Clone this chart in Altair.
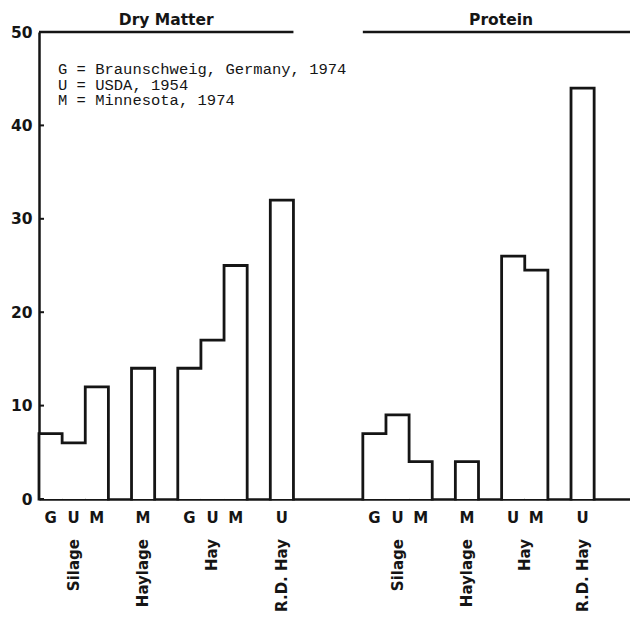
import altair as alt
import pandas as pd

# ---- data ----
panels = ["Dry Matter"] * 8 + ["Protein"] * 7
categories = ["Silage", "Silage", "Silage", "Haylage", "Hay", "Hay", "Hay", "R.D. Hay",
              "Silage", "Silage", "Silage", "Haylage", "Hay", "Hay", "R.D. Hay"]
sources = ["G", "U", "M", "M", "G", "U", "M", "U",
           "G", "U", "M", "M", "U", "M", "U"]
values = [7, 6, 12, 14, 14, 17, 25, 32,
          7, 9, 4, 4, 26, 24.5, 44]
legend_lines = ["G = Braunschweig, Germany, 1974", "U = USDA, 1954", "M = Minnesota, 1974"]
y_ticks = [0, 10, 20, 30, 40, 50]

INK = "#151515"
SANS = "DejaVu Sans"
X_END = 25.55

# ---- slot layout: 1 slot gap between categories, 3 between panels ----
slots = []
pos = 0
prev_p = prev_c = None
for p, c in zip(panels, categories):
    if prev_p is not None:
        if p != prev_p:
            pos += 3
        elif c != prev_c:
            pos += 1
    slots.append(pos)
    pos += 1
    prev_p, prev_c = p, c

bars = pd.DataFrame({"panel": panels, "category": categories, "source": sources,
                     "value": values, "x0": slots})
bars["x1"] = bars["x0"] + 1
bars["xc"] = bars["x0"] + 0.5
bars["grp"] = bars["panel"] + "|" + bars["category"]

# step outline of each category group
rows = []
for g, sub in bars.groupby("grp", sort=False):
    sub = sub.sort_values("x0")
    pts = [(sub["x0"].iloc[0], 0)]
    for _, r in sub.iterrows():
        pts.append((r["x0"], r["value"]))
        pts.append((r["x1"], r["value"]))
    pts.append((sub["x1"].iloc[-1], 0))
    for i, (x, y) in enumerate(pts):
        rows.append({"grp": g, "x": x, "y": y, "o": i})
outline = pd.DataFrame(rows)

cats = bars.groupby("grp", sort=False).agg(category=("category", "first"),
                                            xc=("xc", "mean")).reset_index()

heads = bars.groupby("panel", sort=False).agg(x0=("x0", "min"), x1=("x1", "max")).reset_index()
heads.loc[heads["panel"] == "Protein", "x1"] = X_END + 0.4
heads["xc"] = (heads["x0"] + heads["x1"]) / 2
heads["top"] = 50

xs = alt.Scale(domain=[0, X_END], nice=False, zero=False)
ys = alt.Scale(domain=[0, 50], nice=False, padding=0)

base_x_axis = alt.Axis(labels=False, ticks=False, grid=False, title=None,
                       domainColor=INK, domainWidth=2.5)
y_axis = alt.Axis(values=y_ticks, title=None, grid=False, domainColor=INK, domainWidth=2.5,
                  ticks=False, labelFont=SANS,
                  labelFontWeight="bold", labelFontSize=15.5, labelColor=INK, labelPadding=7)

fill = alt.Chart(bars).mark_rect(color="white", strokeWidth=0).encode(
    x=alt.X("x0:Q", scale=xs, axis=base_x_axis),
    x2="x1:Q",
    y=alt.Y("value:Q", scale=ys, axis=y_axis),
    y2=alt.datum(0),
)

# inward tick marks on the value axis
ticks = alt.Chart(pd.DataFrame({"t": y_ticks})).mark_rule(color=INK, strokeWidth=2).encode(
    x=alt.value(0), x2=alt.value(5), y=alt.Y("t:Q", scale=ys)
)

line = alt.Chart(outline).mark_line(color=INK, strokeWidth=2.8, strokeJoin="miter",
                                    strokeCap="square").encode(
    x=alt.X("x:Q", scale=xs),
    y=alt.Y("y:Q", scale=ys),
    detail="grp:N",
    order="o:Q",
)

head_rule = alt.Chart(heads).mark_rule(color=INK, strokeWidth=2.5).encode(
    x=alt.X("x0:Q", scale=xs), x2="x1:Q", y=alt.Y("top:Q", scale=ys)
)
head_text = alt.Chart(heads).mark_text(font=SANS, fontWeight="bold", fontSize=15.5,
                                       color=INK, dy=-12, baseline="middle").encode(
    x=alt.X("xc:Q", scale=xs), y=alt.Y("top:Q", scale=ys), text="panel:N"
)

src_text = alt.Chart(bars).mark_text(font=SANS, fontWeight="bold", fontSize=15,
                                     color=INK, dy=19, baseline="middle").encode(
    x=alt.X("xc:Q", scale=xs), y=alt.datum(0), text="source:N"
)

cat_text = alt.Chart(cats).mark_text(font=SANS, fontWeight="bold", fontSize=15,
                                     color=INK, angle=270, align="right", baseline="middle",
                                     dx=-40).encode(
    x=alt.X("xc:Q", scale=xs), y=alt.datum(0), text="category:N"
)

legend = alt.Chart(pd.DataFrame({"t": [legend_lines]})).mark_text(
    font="Liberation Mono", fontSize=15.5, lineHeight=15.5, color=INK,
    align="left", baseline="top").encode(
    x=alt.value(19), y=alt.value(30), text="t"
)

chart = alt.layer(fill, ticks, line, head_rule, head_text, src_text, cat_text, legend).properties(
    width=591, height=467,
    autosize=alt.AutoSizeParams(type="none"),
    padding={"left": 31, "top": 24, "right": 0, "bottom": 114},
    background="white",
).configure_view(stroke=None)

chart.save("out.html", embed_options={"renderer": "svg", "actions": False})
